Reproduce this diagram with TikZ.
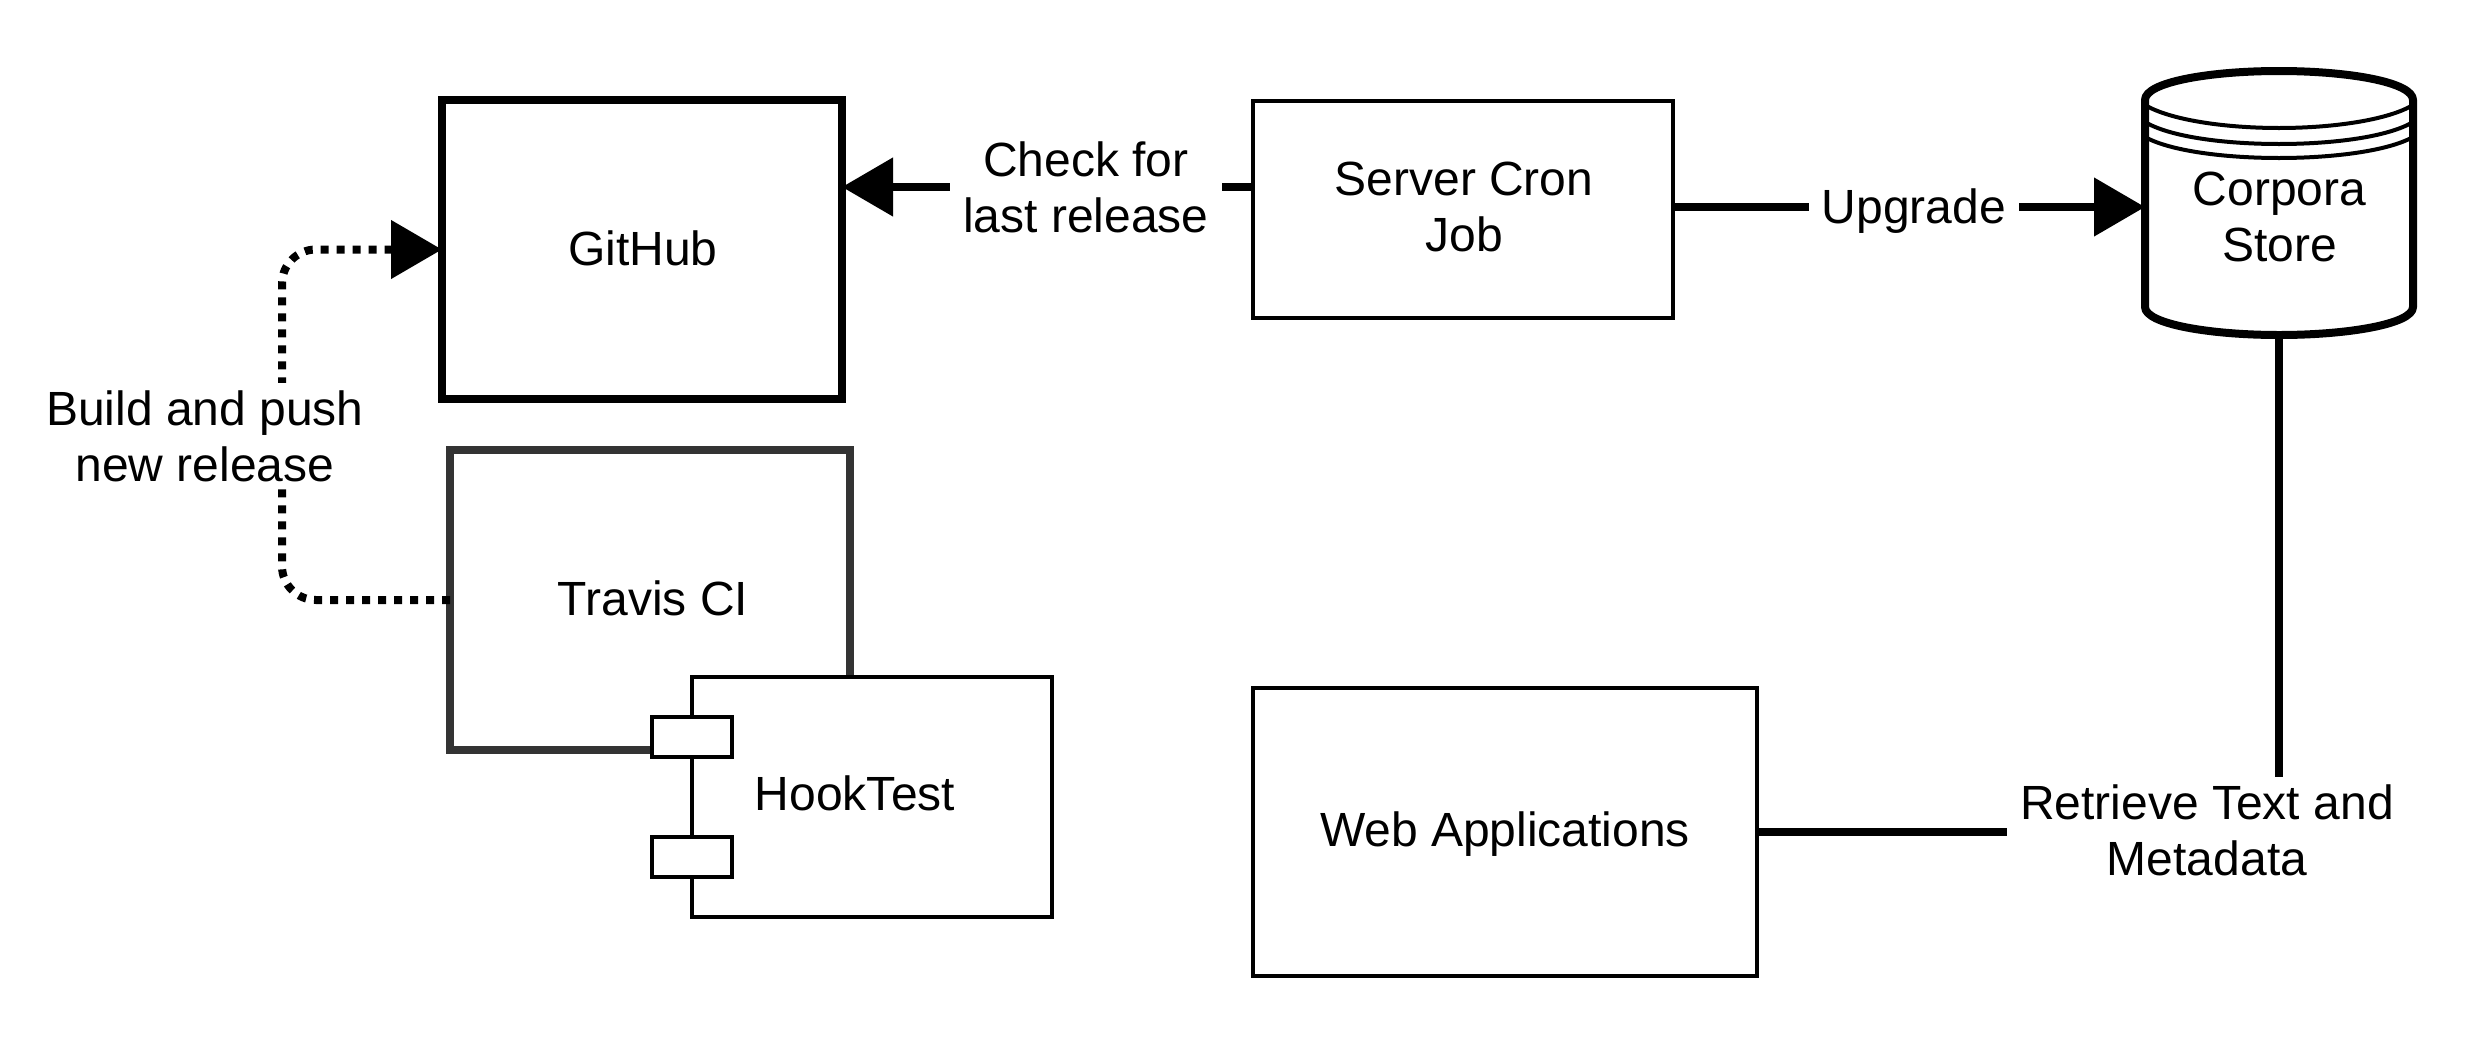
\documentclass[tikz,border=0pt]{standalone}
\usepackage{fontspec}
\setmainfont{Liberation Sans}
\usetikzlibrary{arrows.meta}
\tikzset{
  x=0.5pt,y=-0.5pt,
  txt/.style={font=\fontsize{24}{28}\selectfont,align=center,inner sep=0pt,outer sep=0pt},
  boxthin/.style={txt,draw=black,fill=white,line width=2pt},
  boxthick/.style={txt,draw=black,fill=white,line width=4pt},
  boxgrey/.style={txt,draw=black!80,fill=white,line width=4pt},
  port/.style={draw=black,fill=white,line width=2pt,minimum width=40pt,minimum height=20pt,inner sep=0pt,outer sep=0pt},
  conn/.style={line width=4pt,draw=black},
  tip/.style={-{Triangle[length=25.5pt,width=28.5pt]}},
  lab/.style={txt,fill=white,inner xsep=6.5pt,inner ysep=3.5pt},
  cyl/.style={draw=black,fill=white,line width=4pt,line join=round},
  cylline/.style={draw=black,line width=2pt},
}
\begin{document}
\begin{tikzpicture}
\useasboundingbox (0,0) rectangle (2468,1055);
% boxes
\node[boxthick,minimum width=200pt,minimum height=149.5pt] (github) at (642,249.5) {};
\node[txt] (githubtext) at (643,248) {GitHub};
\node[boxgrey,minimum width=200pt,minimum height=150pt] (travis) at (650,600) {};
\node[txt] (travistext) at (653,598.5) {Travis CI};
\node[boxthin,minimum width=180pt,minimum height=120pt] (hook) at (872,797) {};
\node[port] (porta) at (692,737) {};
\node[port] (portb) at (692,857) {};
\node[txt] (hooktext) at (855,793.5) {HookTest};
\node[boxthin,minimum width=210pt,minimum height=108.5pt] (cron) at (1463,209.5) {};
\node[txt] (crontext) at (1464,207) {Server Cron\\Job};
\node[boxthin,minimum width=252pt,minimum height=144pt] (web) at (1505,832) {};
\node[txt] (webtext) at (1505,834.5) {Web Applications};
% cylinder
\node[minimum width=134pt,minimum height=132pt,inner sep=0pt,outer sep=0pt] (corpora) at (2279,203) {};
\path[cyl] (2145,100) .. controls (2145,82) and (2210,71) .. (2279,71)
   .. controls (2348,71) and (2413,82) .. (2413,100)
   -- (2413,307) .. controls (2413,324) and (2348,335) .. (2279,335)
   .. controls (2210,335) and (2145,324) .. (2145,307) -- cycle;
\draw[cylline] (2145,105) .. controls (2170,120) and (2225,128) .. (2279,128) .. controls (2333,128) and (2388,120) .. (2413,105);
\draw[cylline] (2145,122) .. controls (2170,137) and (2225,144) .. (2279,144) .. controls (2333,144) and (2388,137) .. (2413,122);
\draw[cylline] (2145,137) .. controls (2170,151) and (2225,158) .. (2279,158) .. controls (2333,158) and (2388,151) .. (2413,137);
\node[txt] (corporatext) at (2279.5,217) {Corpora\\Store};
% connectors
\coordinate (cronout) at (1253,187);
\coordinate (cronright) at (1673,207);
\coordinate (bend) at (282,425);
\draw[conn,tip] (cronout) -- (cronout -| github.east);
\draw[conn,tip] (cronright) -- (cronright -| corpora.west);
\draw[conn] (corpora.south) |- (web.east);
\draw[conn,tip,dash pattern=on 4pt off 4pt,rounded corners=17pt] (travis.west) -| (bend) |- (github.west);
% labels
\node[lab] (checklab) at (1086,187) {Check for\\last release};
\node[lab] (uplab) at (1914,211) {Upgrade};
\node[lab] (buildlab) at (205,436) {Build and push\\new release};
\node[lab] (retrievelab) at (2207,830) {Retrieve Text and\\Metadata};
\end{tikzpicture}
\end{document}
